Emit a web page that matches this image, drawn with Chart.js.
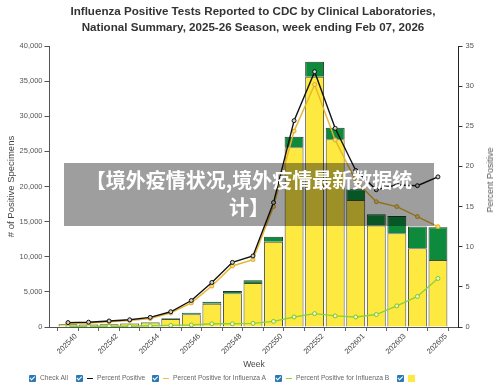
<!DOCTYPE html>
<html>
<head>
<meta charset="utf-8">
<script src="https://cdn.jsdelivr.net/npm/chart.js@4.4.1/dist/chart.umd.min.js"></script>
<style>
  html,body{margin:0;padding:0;background:#fff;}
  #wrap{position:relative;width:500px;height:390px;overflow:hidden;font-family:"Liberation Sans",Arial,sans-serif;}
  #c{position:absolute;left:0;top:0;}
  #title{position:absolute;left:0;top:3px;width:506px;text-align:center;font-weight:bold;font-size:11.6px;line-height:16px;color:#333;}
  #rtitle{position:absolute;left:490px;top:180px;width:0;height:0;}
  #rtitle span{position:absolute;left:0;top:0;transform:translate(-50%,-50%) rotate(-90deg);white-space:nowrap;font-size:9px;font-weight:normal;color:#555;}
  #legend{position:absolute;left:0;top:373px;width:500px;height:12px;font-size:6.7px;color:#666;}
  .it{position:absolute;top:0;height:10px;line-height:10px;white-space:nowrap;}
  .cb{display:inline-block;width:7px;height:7px;background:#2b79b5;border-radius:1px;vertical-align:middle;position:relative;margin-right:4px;}
  .cb::after{content:"";position:absolute;left:2.2px;top:0.6px;width:1.6px;height:3.6px;border:solid #fff;border-width:0 1.2px 1.2px 0;transform:rotate(45deg);}
  .dash{display:inline-block;width:6px;height:1.4px;vertical-align:middle;margin-right:4px;}
  .sw{display:inline-block;width:7px;height:7px;vertical-align:middle;}
  #overlay{position:absolute;left:64px;top:163px;width:370px;height:63px;background:rgba(0,0,0,0.38);color:#fff;text-align:center;font-family:"Noto Sans CJK SC",sans-serif;font-weight:bold;font-size:20px;line-height:27px;padding-top:3px;box-sizing:border-box;}
</style>
</head>
<body>
<div id="wrap">
  <canvas id="c" width="500" height="390"></canvas>
  <div id="title">Influenza Positive Tests Reported to CDC by Clinical Laboratories,<br>National Summary, 2025-26 Season, week ending Feb 07, 2026</div>
  <div id="rtitle"><span>Percent Positive</span></div>
  <div id="overlay">【境外疫情状况,境外疫情最新数据统<br>计】</div>
  <div id="legend">
    <div class="it" style="left:29px"><span class="cb"></span>Check All</div>
    <div class="it" style="left:76px"><span class="cb"></span><span class="dash" style="background:#111"></span>Percent Positive</div>
    <div class="it" style="left:152px"><span class="cb"></span><span class="dash" style="background:#f2c030"></span>Percent Positive for Influenza A</div>
    <div class="it" style="left:275px"><span class="cb"></span><span class="dash" style="background:#8ed13a"></span>Percent Positive for Influenza B</div>
    <div class="it" style="left:397px"><span class="cb"></span><span class="sw" style="background:#fde93f"></span></div>
  </div>
</div>
<script>
const weeks = ['202540','202541','202542','202543','202544','202545','202546','202547','202548','202549','202550','202551','202552','202553','202601','202602','202603','202604','202605'];
const fluA = [400, 360, 400, 490, 650, 1130, 1800, 3320, 4790, 6270, 12150, 25580, 35630, 26720, 18080, 14450, 13340, 11200, 9540];
const fluB = [30, 30, 30, 40, 60, 110, 240, 280, 330, 380, 710, 1510, 2140, 1650, 1520, 1590, 2460, 3100, 4650];
const pctPositive = [0.55, 0.6, 0.75, 0.9, 1.2, 1.9, 3.3, 5.55, 8.05, 8.85, 15.5, 25.7, 31.8, 24.75, 19.5, 17.1, 17.7, 17.6, 18.7];
const pctA = [0.45, 0.5, 0.65, 0.8, 1.05, 1.75, 3.0, 5.1, 7.6, 8.4, 15.0, 24.4, 30.2, 23.3, 18.2, 15.6, 15.0, 13.75, 12.5];
const pctB = [0.1, 0.1, 0.1, 0.1, 0.15, 0.2, 0.25, 0.4, 0.4, 0.45, 0.7, 1.25, 1.67, 1.38, 1.25, 1.55, 2.63, 3.8, 6.05];
const leftTicks = [0, 5000, 10000, 15000, 20000, 25000, 30000, 35000, 40000];
const rightTicks = [0, 5, 10, 15, 20, 25, 30, 35];

const xy = arr => arr.map((v, i) => ({x: i, y: v}));
const tickFont = {family: '"Liberation Sans", Arial, sans-serif', size: 7.5};
const ctx = document.getElementById('c');
new Chart(ctx, {
  data: {
    datasets: [
      {type:'line', label:'Percent Positive', data:xy(pctPositive), yAxisID:'y1', order:0,
       borderColor:'#111', borderWidth:1.4, pointRadius:2, pointBackgroundColor:'#ccc', pointBorderColor:'#111', pointBorderWidth:1, tension:0},
      {type:'line', label:'Percent Positive for Influenza A', data:xy(pctA), yAxisID:'y1', order:1,
       borderColor:'#e9b52a', borderWidth:1.4, pointRadius:2, pointBackgroundColor:'#f7dc7a', pointBorderColor:'#e0a820', pointBorderWidth:1, tension:0},
      {type:'line', label:'Percent Positive for Influenza B', data:xy(pctB), yAxisID:'y1', order:1,
       borderColor:'#8ed13a', borderWidth:1.4, pointRadius:2, pointBackgroundColor:'#e9f7d6', pointBorderColor:'#7cc52a', pointBorderWidth:1, tension:0},
      {type:'bar', label:'Influenza A', data:xy(fluA), yAxisID:'y', stack:'s', order:3,
       backgroundColor:'#fde93f', borderColor:'#4a4a3a', borderWidth:1, barPercentage:0.92, categoryPercentage:1.0},
      {type:'bar', label:'Influenza B', data:xy(fluB), yAxisID:'y', stack:'s', order:3,
       backgroundColor:'#0e8a3c', borderColor:'#1d3a22', borderWidth:1, barPercentage:0.92, categoryPercentage:1.0}
    ]
  },
  options: {
    responsive:false, animation:false,
    layout:{padding:{left:6, right:0, top:46, bottom:20}},
    plugins:{legend:{display:false}, tooltip:{enabled:false}},
    scales:{
      x:{type:'linear', stacked:true, min:-0.9, max:19.0, offset:false,
         afterBuildTicks:function(s){s.ticks = weeks.map((w,i)=>({value:i}));},
         grid:{display:true, drawOnChartArea:false, tickLength:4, color:'#666'},
         border:{display:true, color:'#555'},
         ticks:{font:tickFont, color:'#444', maxRotation:45, minRotation:45, autoSkip:false, padding:1, labelOffset:8,
                callback:function(v){return (v%2===0) ? weeks[v] : '';}},
         title:{display:true, text:'Week', font:{family:'"Liberation Sans", Arial, sans-serif', size:8.5}, color:'#444', padding:{top:0,bottom:0}},
         afterFit:function(s){s.height = 43;}
      },
      y:{stacked:true, position:'left', min:0, max:40000,
         afterBuildTicks:function(s){s.ticks = leftTicks.map(v=>({value:v}));},
         grid:{display:true, drawOnChartArea:false, tickLength:5, color:'#555'},
         border:{display:true, color:'#555'},
         ticks:{font:tickFont, color:'#555', padding:2, callback:function(v){return v.toLocaleString('en-US');}},
         title:{display:true, text:'# of Positive Specimens', font:{family:'"Liberation Sans", Arial, sans-serif', size:9.5}, color:'#444', padding:{top:0,bottom:0}},
         afterFit:function(s){s.width = 43.5;}
      },
      y1:{position:'right', min:0, max:35,
         afterBuildTicks:function(s){s.ticks = rightTicks.map(v=>({value:v}));},
         grid:{display:true, drawOnChartArea:false, tickLength:4, color:'#333'},
         border:{display:true, color:'#222'},
         ticks:{font:tickFont, color:'#555', padding:3},
         title:{display:false},
         afterFit:function(s){s.width = 41.5;}
      }
    }
  }
});
</script>
</body>
</html>
